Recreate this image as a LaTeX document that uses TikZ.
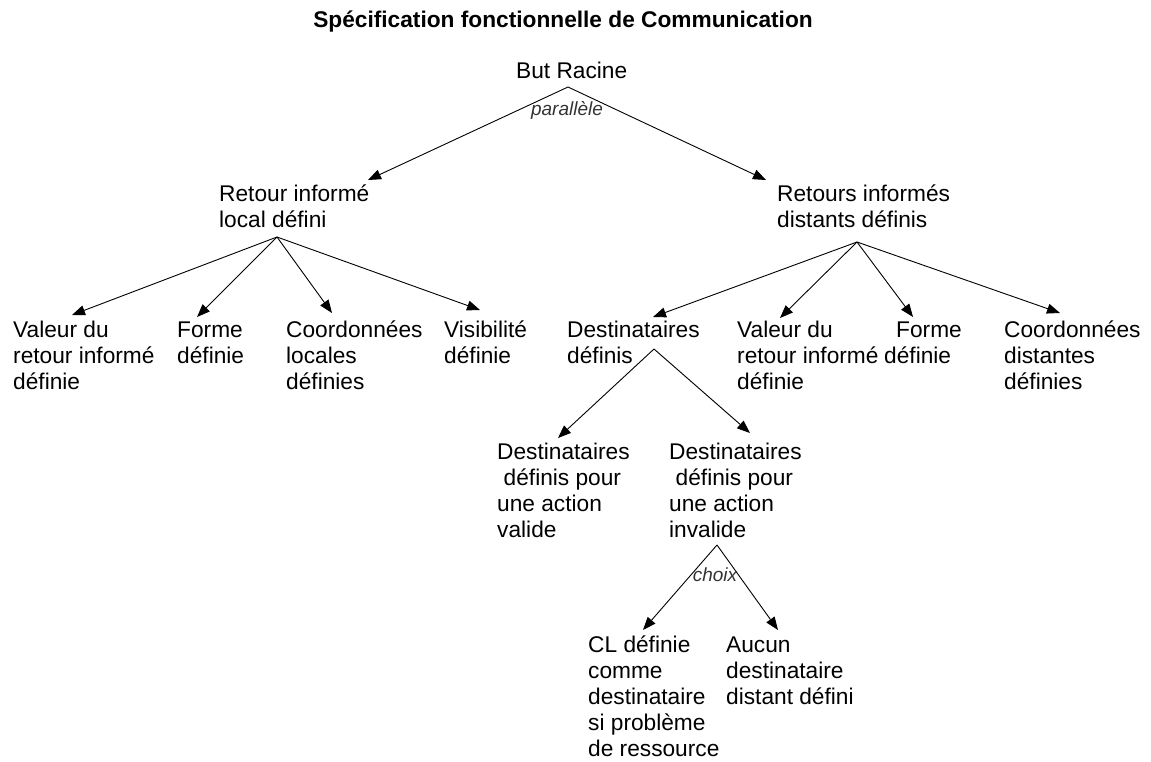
\documentclass[tikz,border=0pt]{standalone}
\usepackage{fontspec}
\setmainfont{Liberation Sans}
\usetikzlibrary{arrows.meta}
\tikzset{
	txt/.style={anchor=base west,align=left,inner sep=0pt,font=\fontsize{22.7}{26}\selectfont},
	lbl/.style={inner sep=0pt,font=\fontsize{19}{22}\selectfont\itshape,text=black!80},
	fl/.style={-{Triangle[length=13pt,width=10pt]},line width=0.9pt}
}
\begin{document}
\begin{tikzpicture}[x=1pt,y=-1pt]
				% base = baseline of the last line
				\useasboundingbox (0,0) rectangle (1151,761);
				\node[txt,anchor=base,font=\fontsize{22.7}{26}\selectfont\bfseries] (titre) at (563,27) {Spécification fonctionnelle de Communication};
				\node[txt] (racine) at (516,78) {But Racine};
				\node[txt] (local) at (219,227) {Retour informé\\local défini};
				\node[txt] (distant) at (777,227) {Retours informés\\distants définis};
				\node[txt] (lvaleur) at (13,389) {Valeur du\\retour informé\\définie};
				\node[txt] (lforme) at (177,363) {Forme\\définie};
				\node[txt] (lcoord) at (286,389) {Coordonnées\\locales\\définies};
				\node[txt] (lvisib) at (444,363) {Visibilité\\définie};
				\node[txt] (dest) at (567,363) {Destinataires\\définis};
				\node[txt] (dvaleur) at (737,389) {Valeur du\\retour informé\\définie};
				\node[txt] (dforme) at (884,363) {\hspace*{12pt}Forme\\définie};
				\node[txt] (dcoord) at (1004,389) {Coordonnées\\distantes\\définies};
				\node[txt] (valide) at (497,537) {Destinataires\\\hspace*{6.5pt}définis pour\\une action\\valide};
				\node[txt] (invalide) at (669,537) {Destinataires\\\hspace*{6.5pt}définis pour\\une action\\invalide};
				\node[txt] (cl) at (588,756) {CL définie\\comme\\destinataire\\si problème\\de ressource};
				\node[txt] (aucun) at (726,704) {Aucun\\destinataire\\distant défini};
				\path
				(568,87) coordinate (j0)
				(277,237) coordinate (j1)
				(857,242) coordinate (j2)
				(654,349) coordinate (j3)
				(717,545) coordinate (j4)
				(368,180) coordinate (t1)
				(766,180) coordinate (t2)
				(72,315) coordinate (t3)
				(197,317) coordinate (t4)
				(332,313) coordinate (t5)
				(480,310) coordinate (t6)
				(653,317) coordinate (t7)
				(780,318) coordinate (t8)
				(913,317) coordinate (t9)
				(1060,313) coordinate (t10)
				(558,438) coordinate (t11)
				(750,433) coordinate (t12)
				(643,630) coordinate (t13)
				(778,630) coordinate (t14)
				;
				\foreach \a/\b in {j0/t1, j0/t2, j1/t3, j1/t4, j1/t5, j1/t6, j2/t7, j2/t8, j2/t9, j2/t10, j3/t11, j3/t12, j4/t13, j4/t14} \draw[fl] (\a)--(\b)
				;
				\node[lbl] (par) at (567,110) {parallèle};
				\node[lbl] (choix) at (715,575) {choix};
		\end{tikzpicture}
\end{document}
